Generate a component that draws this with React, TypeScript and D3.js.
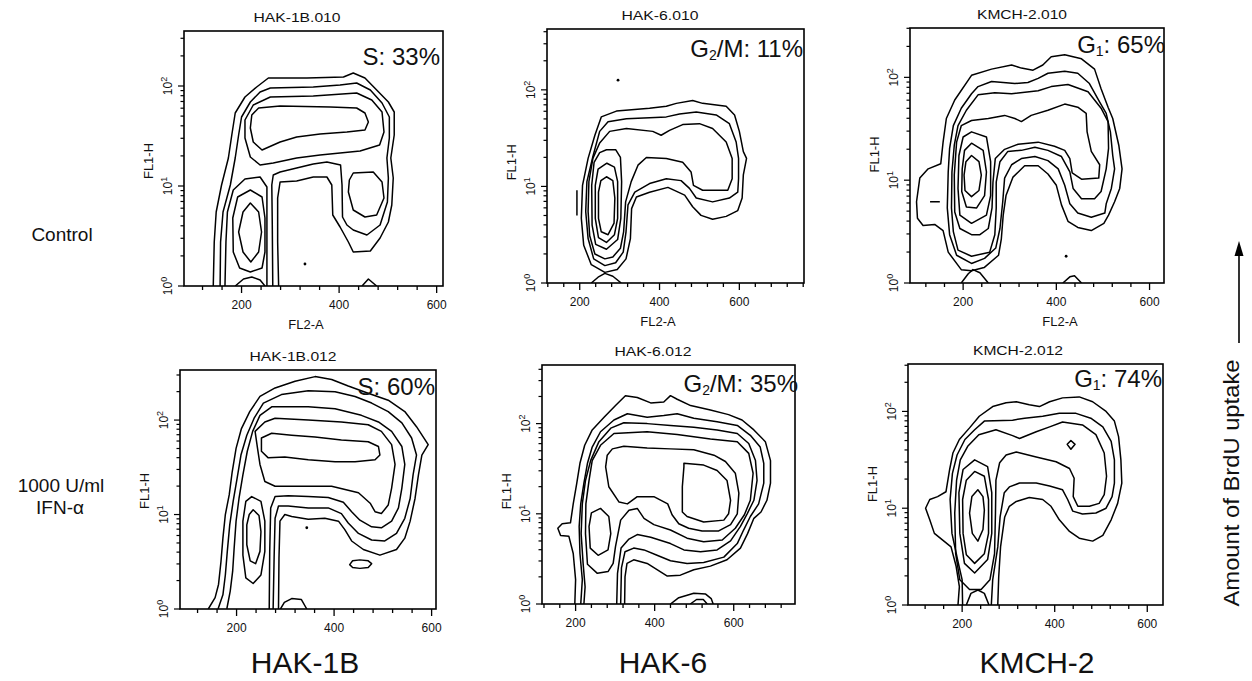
import React from "react";
import * as d3 from "d3";

// contour traces
// every point is [FL2-A channel, log10(FL1-H)]
type Pt = [number, number];

// HAK-1B control
const hak1bCtrlL1: Pt[] = [[142,0],[144,0.44],[148,0.74],[159,1.01],[173,1.28],[180,1.51],[187,1.73],[207,1.89],[231,1.99],[255,2.08],[334,2.08],[409,2.09],[429,2.13],[453,2.08],[477,1.96],[501,1.84],[513,1.74],[513,1.51],[506,1.28],[511,1.08],[508,0.81],[501,0.64],[484,0.48],[464,0.35],[429,0.34],[419,0.44],[402,0.59],[387,0.71],[385,1.01],[375,1.09],[347,1.09],[313,1.05],[279,1.04],[274,0.88],[274,0.44],[276,0]];
const hak1bCtrlL2: Pt[] = [[156,0],[157,0.44],[162,0.74],[177,1.01],[187,1.28],[194,1.51],[200,1.69],[218,1.84],[238,1.94],[259,1.98],[347,1.99],[402,2.01],[436,2.03],[464,1.96],[488,1.83],[503,1.69],[503,1.48],[498,1.28],[501,1.08],[499,0.84],[484,0.61],[457,0.51],[429,0.56],[416,0.61],[407,0.69],[406,1.01],[403,1.21],[375,1.24],[347,1.22],[313,1.18],[279,1.14],[265,1.11],[262,1.01],[263,0.61],[264,0]];
const hak1bCtrlG1Arch: Pt[] = [[166,0],[168,0.44],[171,0.74],[183,0.96],[207,1.07],[238,1.09],[252,0.99],[252,0.61],[252,0]];
const hak1bCtrlRing: Pt[] = [[207,1.66],[224,1.81],[259,1.89],[347,1.90],[436,1.93],[467,1.86],[488,1.74],[492,1.54],[483,1.41],[443,1.35],[402,1.33],[361,1.31],[313,1.28],[265,1.23],[238,1.21],[218,1.29],[207,1.48]];
const hak1bCtrlBand: Pt[] = [[221,1.71],[235,1.78],[279,1.80],[382,1.79],[436,1.78],[453,1.73],[460,1.64],[453,1.56],[416,1.54],[361,1.52],[313,1.49],[279,1.44],[242,1.36],[224,1.44],[218,1.58]];
const hak1bCtrlG2: Pt[] = [[429,1.13],[470,1.14],[488,1.04],[492,0.88],[477,0.71],[453,0.69],[429,0.76],[419,0.94],[421,1.06]];
const hak1bCtrlG1Outer: Pt[] = [[218,0.96],[242,0.89],[248,0.68],[248,0.34],[242,0.18],[218,0.14],[196,0.18],[183,0.34],[182,0.68],[192,0.89]];
const hak1bCtrlG1Inner: Pt[] = [[218,0.83],[235,0.74],[241,0.54],[235,0.34],[219,0.24],[203,0.34],[194,0.54],[203,0.74]];
const hak1bCtrlFoot: Pt[] = [[187,0],[204,0.07],[221,0.09],[238,0.06],[248,0]];
const hak1bCtrlFootR: Pt[] = [[447,0],[460,0.07],[477,0]];
const hak1bCtrlDots: Pt[] = [[330,0.22]];

// HAK-6 control
const hak6CtrlL1: Pt[] = [[263,0.11],[229,0.19],[210,0.39],[204,0.67],[207,1.01],[221,1.29],[238,1.53],[254,1.72],[292,1.78],[375,1.81],[417,1.83],[442,1.86],[483,1.89],[508,1.86],[567,1.83],[588,1.74],[600,1.57],[610,1.36],[618,1.29],[610,1.12],[607,0.88],[596,0.75],[567,0.69],[533,0.66],[504,0.70],[483,0.79],[463,0.91],[421,0.99],[375,0.94],[342,0.89],[330,0.77],[327,0.46],[316,0.25],[294,0.14]];
const hak6CtrlL2: Pt[] = [[263,0.18],[235,0.25],[221,0.46],[215,0.74],[218,1.05],[233,1.31],[250,1.57],[271,1.67],[317,1.70],[375,1.71],[417,1.72],[450,1.75],[492,1.77],[542,1.74],[575,1.65],[592,1.46],[598,1.29],[598,1.08],[596,0.94],[575,0.88],[533,0.84],[492,0.88],[475,0.98],[454,1.06],[417,1.08],[375,1.03],[338,0.94],[321,0.81],[316,0.53],[309,0.32],[290,0.21]];
const hak6CtrlL3: Pt[] = [[263,0.25],[238,0.30],[225,0.49],[221,0.74],[223,1.05],[233,1.29],[250,1.45],[275,1.57],[317,1.60],[383,1.57],[404,1.53],[425,1.58],[458,1.64],[500,1.65],[533,1.60],[567,1.46],[582,1.29],[582,1.08],[571,0.96],[508,0.96],[485,1.01],[479,1.15],[458,1.25],[417,1.29],[367,1.30],[346,1.22],[329,1.05],[315,0.84],[310,0.53],[302,0.36],[283,0.27]];
const hak6CtrlG1a: Pt[] = [[267,1.38],[290,1.38],[302,1.30],[305,1.05],[303,0.67],[295,0.45],[267,0.35],[240,0.40],[231,0.60],[230,1.01],[236,1.25],[250,1.35]];
const hak6CtrlG1b: Pt[] = [[268,1.24],[287,1.20],[295,1.05],[295,0.67],[287,0.50],[267,0.42],[247,0.47],[239,0.67],[239,1.01],[246,1.18]];
const hak6CtrlG1c: Pt[] = [[267,1.10],[283,1.06],[288,0.88],[286,0.62],[271,0.50],[254,0.53],[247,0.67],[247,0.94],[253,1.06]];
const hak6CtrlFoot: Pt[] = [[229,0],[246,0.06],[263,0.10],[283,0.07],[304,0]];
const hak6CtrlTick: Pt[] = [[193,0.96],[193,0.70]];
const hak6CtrlDots: Pt[] = [[296,2.10]];

// KMCH-2 control
const kmch2CtrlL1: Pt[] = [[196,0.13],[168,0.30],[157,0.51],[139,0.57],[114,0.56],[102,0.63],[100,0.79],[107,1.02],[125,1.11],[152,1.16],[157,1.37],[164,1.60],[182,1.78],[218,2.02],[261,2.08],[304,2.12],[325,2.09],[350,2.07],[371,2.12],[389,2.20],[418,2.22],[454,2.18],[482,2.08],[496,1.89],[511,1.71],[521,1.60],[534,1.34],[541,1.11],[536,0.92],[525,0.79],[512,0.66],[502,0.58],[475,0.51],[446,0.54],[425,0.60],[411,0.76],[400,0.95],[382,1.06],[361,1.14],[332,1.14],[307,1.03],[292,0.85],[286,0.66],[282,0.43],[276,0.27],[245,0.15],[218,0.12]];
const kmch2CtrlL2: Pt[] = [[218,0.19],[186,0.27],[171,0.47],[166,0.73],[168,1.08],[171,1.31],[179,1.53],[196,1.70],[218,1.84],[232,1.91],[261,1.96],[311,1.94],[339,1.95],[361,1.99],[382,2.04],[418,2.06],[446,2.04],[471,1.94],[493,1.76],[507,1.65],[516,1.47],[521,1.24],[525,1.11],[518,0.92],[507,0.77],[504,0.68],[475,0.64],[446,0.68],[429,0.77],[418,0.95],[404,1.11],[382,1.19],[354,1.23],[325,1.21],[304,1.15],[289,1.02],[285,0.79],[279,0.53],[270,0.34],[246,0.24]];
const kmch2CtrlL3: Pt[] = [[232,1.83],[268,1.85],[304,1.84],[361,1.87],[389,1.91],[425,1.93],[468,1.86],[496,1.70],[511,1.57],[512,1.31],[507,1.11],[496,0.89],[482,0.82],[454,0.82],[436,0.92],[429,1.08],[411,1.23],[382,1.29],[354,1.32],[325,1.29],[296,1.28],[279,1.18],[271,0.98],[271,0.73],[268,0.47],[257,0.30],[218,0.26],[189,0.32],[179,0.50],[175,0.73],[176,1.08],[181,1.34],[189,1.53],[207,1.68]];
const kmch2CtrlL4: Pt[] = [[218,0.47],[193,0.53],[182,0.69],[181,1.05],[186,1.37],[196,1.53],[218,1.58],[254,1.60],[289,1.63],[311,1.60],[325,1.57],[346,1.63],[382,1.68],[418,1.74],[446,1.71],[464,1.65],[466,1.47],[475,1.28],[493,1.15],[491,1.02],[454,1.01],[434,1.07],[429,1.21],[418,1.29],[396,1.33],[361,1.37],[318,1.35],[289,1.30],[269,1.21],[264,0.98],[262,0.73],[254,0.53],[236,0.47]];
const kmch2CtrlG1a: Pt[] = [[218,1.47],[250,1.42],[259,1.18],[259,0.85],[250,0.66],[218,0.58],[193,0.66],[189,0.92],[191,1.24],[200,1.42]];
const kmch2CtrlG1b: Pt[] = [[218,1.36],[243,1.29],[250,1.08],[246,0.85],[229,0.73],[207,0.74],[197,0.89],[198,1.11],[203,1.29]];
const kmch2CtrlG1c: Pt[] = [[218,1.24],[234,1.18],[239,1.05],[234,0.90],[218,0.84],[204,0.90],[202,1.05],[206,1.18]];
const kmch2CtrlFoot: Pt[] = [[196,0],[211,0.09],[221,0.13],[236,0.10],[254,0]];
const kmch2CtrlFootR: Pt[] = [[414,0],[429,0.06],[439,0.07],[454,0]];
const kmch2CtrlTick: Pt[] = [[129,0.79],[150,0.79]];
const kmch2CtrlDots: Pt[] = [[421,0.26]];

// HAK-1B + IFN-alpha
const hak1bIfnL1: Pt[] = [[142,0],[156,0.12],[163,0.26],[168,0.50],[172,0.75],[177,1.00],[185,1.21],[191,1.45],[199,1.70],[210,1.91],[227,2.09],[248,2.25],[279,2.34],[320,2.41],[361,2.46],[395,2.43],[429,2.36],[467,2.29],[511,2.21],[545,2.09],[569,1.93],[593,1.74],[580,1.63],[573,1.42],[566,1.17],[556,0.93],[545,0.75],[528,0.63],[494,0.57],[460,0.63],[436,0.72],[422,0.84],[409,0.93],[381,0.96],[347,0.95],[313,0.98],[299,1.00],[289,0.93],[287,0.54],[286,0]];
const hak1bIfnL2: Pt[] = [[162,0],[172,0.15],[177,0.36],[181,0.61],[186,0.89],[193,1.14],[201,1.38],[209,1.63],[221,1.84],[236,2.02],[255,2.18],[292,2.27],[347,2.31],[402,2.30],[443,2.25],[477,2.18],[511,2.09],[539,1.97],[559,1.81],[569,1.63],[562,1.42],[556,1.17],[545,0.96],[528,0.80],[504,0.72],[477,0.73],[450,0.80],[429,0.91],[415,1.01],[388,1.07],[347,1.07],[306,1.09],[286,1.09],[279,0.96],[277,0.54],[275,0]];
const hak1bIfnL3: Pt[] = [[180,0],[187,0.19],[192,0.40],[195,0.64],[199,0.93],[205,1.17],[213,1.42],[222,1.67],[233,1.88],[248,2.05],[272,2.14],[347,2.14],[402,2.12],[456,2.05],[491,1.98],[518,1.88],[539,1.72],[545,1.53],[539,1.28],[532,1.07],[518,0.93],[497,0.86],[477,0.87],[453,0.94],[436,1.03],[419,1.13],[388,1.18],[347,1.19],[306,1.20],[279,1.19],[270,1.07],[268,0.61],[267,0]];
const hak1bIfnL4: Pt[] = [[238,1.88],[258,1.98],[279,2.02],[347,2.00],[415,1.98],[470,1.95],[497,1.88],[518,1.74],[525,1.53],[518,1.28],[511,1.10],[497,1.01],[484,1.03],[474,1.12],[450,1.23],[395,1.30],[333,1.30],[279,1.30],[258,1.35],[248,1.53],[243,1.70]];
const hak1bIfnBand: Pt[] = [[251,1.81],[272,1.86],[313,1.84],[361,1.82],[415,1.79],[470,1.77],[491,1.72],[494,1.63],[484,1.58],[443,1.56],[402,1.56],[347,1.58],[299,1.61],[265,1.60],[251,1.67]];
const hak1bIfnG1a: Pt[] = [[231,1.19],[250,1.14],[258,0.93],[258,0.61],[250,0.36],[234,0.27],[219,0.33],[213,0.57],[213,0.93],[219,1.14]];
const hak1bIfnG1b: Pt[] = [[234,1.05],[246,0.99],[250,0.82],[248,0.61],[239,0.48],[228,0.51],[221,0.68],[221,0.89],[226,1.00]];
const hak1bIfnIsland: Pt[] = [[453,0.52],[470,0.51],[477,0.48],[470,0.44],[453,0.43],[438,0.44],[432,0.47],[438,0.51]];
const hak1bIfnFoot: Pt[] = [[290,0],[298,0.07],[313,0.11],[333,0.10],[344,0]];
const hak1bIfnDots: Pt[] = [[344,0.86]];

// HAK-6 + IFN-alpha
const hak6IfnL1: Pt[] = [[198,0],[200,0.27],[194,0.56],[183,0.75],[162,0.76],[155,0.84],[166,0.89],[187,0.90],[194,1.11],[203,1.34],[211,1.56],[223,1.76],[242,1.93],[272,2.07],[301,2.20],[326,2.31],[356,2.29],[390,2.23],[423,2.24],[440,2.31],[457,2.27],[491,2.20],[541,2.15],[587,2.10],[621,2.04],[651,1.93],[680,1.80],[693,1.59],[693,1.34],[684,1.15],[669,1.02],[651,0.95],[635,0.78],[617,0.62],[583,0.49],[541,0.42],[499,0.38],[465,0.32],[432,0.31],[406,0.38],[381,0.45],[347,0.49],[330,0.45],[325,0.30],[324,0]];
const hak6IfnL2: Pt[] = [[213,0],[217,0.27],[211,0.56],[209,0.86],[213,1.11],[221,1.34],[230,1.56],[242,1.74],[263,1.91],[297,2.04],[331,2.11],[381,2.07],[423,2.09],[457,2.11],[499,2.06],[558,2.02],[609,1.98],[642,1.87],[667,1.74],[676,1.56],[676,1.34],[663,1.11],[642,0.97],[625,0.82],[609,0.67],[575,0.52],[524,0.46],[482,0.45],[440,0.48],[406,0.54],[373,0.60],[347,0.62],[325,0.58],[316,0.40],[314,0]];
const hak6IfnL3: Pt[] = [[221,0],[224,0.19],[219,0.45],[214,0.78],[217,1.11],[225,1.37],[238,1.59],[259,1.80],[289,1.95],[322,2.01],[381,2.00],[440,1.98],[499,1.96],[558,1.93],[609,1.89],[638,1.78],[655,1.59],[659,1.37],[651,1.15],[634,1.00],[617,0.86],[592,0.70],[558,0.60],[516,0.58],[474,0.60],[440,0.67],[390,0.74],[356,0.77],[335,0.72],[315,0.62],[306,0.34],[304,0]];
const hak6IfnL4: Pt[] = [[255,0.34],[230,0.44],[225,0.78],[226,1.11],[234,1.37],[242,1.59],[263,1.76],[297,1.89],[381,1.91],[457,1.88],[541,1.83],[609,1.80],[638,1.67],[649,1.45],[642,1.15],[627,0.99],[604,0.84],[571,0.71],[524,0.69],[482,0.73],[440,0.82],[398,0.88],[373,0.95],[356,1.06],[335,1.04],[314,0.93],[301,0.64],[295,0.45],[282,0.36]];
const hak6IfnL5: Pt[] = [[293,1.72],[322,1.75],[381,1.73],[440,1.72],[499,1.71],[550,1.65],[579,1.58],[604,1.45],[613,1.23],[609,1.00],[592,0.88],[562,0.81],[520,0.81],[486,0.84],[461,0.89],[444,0.99],[433,1.11],[398,1.19],[356,1.19],[331,1.11],[310,1.13],[284,1.30],[276,1.52],[280,1.65]];
const hak6IfnG2: Pt[] = [[474,1.56],[524,1.54],[558,1.48],[583,1.37],[592,1.15],[587,1.00],[575,0.93],[524,0.91],[482,0.97],[470,1.02],[470,1.30],[474,1.52]];
const hak6IfnG1: Pt[] = [[263,1.06],[284,0.97],[289,0.78],[282,0.60],[257,0.54],[237,0.62],[234,0.86],[240,1.01]];
const hak6IfnFoot: Pt[] = [[440,0],[461,0.07],[499,0.12],[529,0.11],[543,0.06],[548,0]];
const hak6IfnFootIn: Pt[] = [[490,0],[506,0.05],[523,0.05],[533,0]];

// KMCH-2 + IFN-alpha
const kmch2IfnL1: Pt[] = [[191,0],[194,0.19],[187,0.40],[176,0.60],[158,0.67],[140,0.74],[130,0.88],[121,1.00],[130,1.09],[147,1.12],[165,1.17],[173,1.40],[180,1.57],[194,1.71],[216,1.83],[237,1.95],[266,2.05],[295,2.09],[317,2.10],[345,2.07],[367,2.05],[389,2.10],[417,2.14],[453,2.15],[482,2.10],[511,2.00],[529,1.90],[538,1.74],[543,1.50],[545,1.26],[536,1.05],[522,0.88],[504,0.72],[482,0.66],[453,0.69],[432,0.76],[410,0.88],[392,1.02],[374,1.09],[345,1.11],[317,1.07],[302,1.02],[292,0.91],[283,0.60],[279,0.29],[277,0]];
const kmch2IfnL2: Pt[] = [[201,0],[200,0.26],[190,0.47],[178,0.74],[174,1.09],[179,1.36],[189,1.55],[206,1.71],[227,1.81],[248,1.90],[309,1.91],[335,1.93],[374,1.95],[410,1.98],[446,1.98],[478,1.93],[504,1.84],[522,1.69],[529,1.50],[529,1.26],[524,1.12],[511,1.00],[489,0.95],[460,0.94],[439,0.97],[428,1.09],[417,1.19],[389,1.23],[360,1.26],[324,1.26],[302,1.22],[291,1.16],[282,0.91],[277,0.60],[266,0.26],[263,0]];
const kmch2IfnL3: Pt[] = [[216,0.16],[195,0.26],[186,0.53],[184,0.95],[188,1.29],[196,1.50],[212,1.64],[236,1.76],[273,1.81],[309,1.75],[324,1.72],[360,1.79],[389,1.84],[417,1.89],[460,1.86],[489,1.76],[507,1.57],[512,1.33],[507,1.14],[496,1.05],[475,1.02],[450,1.02],[440,1.12],[442,1.31],[432,1.41],[403,1.48],[360,1.53],[317,1.58],[295,1.55],[281,1.47],[273,1.29],[272,0.95],[270,0.53],[260,0.26],[241,0.16]];
const kmch2IfnG1a: Pt[] = [[227,1.50],[255,1.43],[264,1.16],[264,0.74],[255,0.47],[227,0.33],[205,0.43],[195,0.74],[193,1.16],[202,1.40]];
const kmch2IfnG1b: Pt[] = [[227,1.38],[248,1.33],[257,1.09],[257,0.74],[248,0.53],[227,0.43],[209,0.52],[202,0.74],[201,1.09],[209,1.29]];
const kmch2IfnG1c: Pt[] = [[234,1.19],[245,1.12],[248,0.98],[245,0.78],[234,0.66],[222,0.74],[216,0.95],[221,1.12]];
const kmch2IfnPeak: Pt[] = [[435,1.70],[444,1.66],[435,1.61],[427,1.66]];
const kmch2IfnFoot: Pt[] = [[209,0],[219,0.12],[234,0.155],[248,0.12],[258,0]];

const panelTitles = ["HAK-1B.010", "HAK-6.010", "KMCH-2.010", "HAK-1B.012", "HAK-6.012", "KMCH-2.012"];
const phaseNames = ["S", "G2/M", "G1", "S", "G2/M", "G1"];
const phasePercents = [33, 11, 65, 60, 35, 74];
const cellLines = ["HAK-1B", "HAK-6", "KMCH-2"];
const xTickLabels = [200, 400, 600];

const FONT = "Arial, 'Liberation Sans', Helvetica, sans-serif";

const panels = [
  { box: { l: 184, t: 31, r: 443, b: 286 }, xDomain: [82, 613], eTop: 2.55, titleX: 297, titleW: 87, phaseX: 440, phaseY: 65, fl2aX: 306,
    open: [hak1bCtrlL1, hak1bCtrlL2, hak1bCtrlG1Arch, hak1bCtrlFoot, hak1bCtrlFootR],
    closed: [hak1bCtrlRing, hak1bCtrlBand, hak1bCtrlG2, hak1bCtrlG1Outer, hak1bCtrlG1Inner], dots: hak1bCtrlDots },
  { box: { l: 547, t: 29, r: 804, b: 283 }, xDomain: [118, 762], eTop: 2.63, titleX: 660, titleW: 77, phaseX: 803, phaseY: 57, fl2aX: 658,
    open: [hak6CtrlFoot, hak6CtrlTick],
    closed: [hak6CtrlL1, hak6CtrlL2, hak6CtrlL3, hak6CtrlG1a, hak6CtrlG1b, hak6CtrlG1c], dots: hak6CtrlDots },
  { box: { l: 910, t: 28, r: 1164, b: 283 }, xDomain: [86, 631], eTop: 2.48, titleX: 1022, titleW: 90, phaseX: 1165, phaseY: 53, fl2aX: 1060,
    open: [kmch2CtrlFoot, kmch2CtrlFootR, kmch2CtrlTick],
    closed: [kmch2CtrlL1, kmch2CtrlL2, kmch2CtrlL3, kmch2CtrlL4, kmch2CtrlG1a, kmch2CtrlG1b, kmch2CtrlG1c], dots: kmch2CtrlDots },
  { box: { l: 180, t: 370, r: 436, b: 609 }, xDomain: [84, 609], eTop: 2.53, titleX: 293, titleW: 87, phaseX: 435, phaseY: 395, fl2aX: 0,
    open: [hak1bIfnL1, hak1bIfnL2, hak1bIfnL3, hak1bIfnFoot],
    closed: [hak1bIfnL4, hak1bIfnBand, hak1bIfnG1a, hak1bIfnG1b, hak1bIfnIsland], dots: hak1bIfnDots },
  { box: { l: 542, t: 365, r: 795, b: 604 }, xDomain: [115, 755], eTop: 2.65, titleX: 653, titleW: 77, phaseX: 798, phaseY: 392, fl2aX: 0,
    open: [hak6IfnL1, hak6IfnL2, hak6IfnL3, hak6IfnFoot, hak6IfnFootIn],
    closed: [hak6IfnL4, hak6IfnL5, hak6IfnG2, hak6IfnG1], dots: [] as Pt[] },
  { box: { l: 908, t: 364, r: 1163, b: 605 }, xDomain: [83, 634], eTop: 2.49, titleX: 1018, titleW: 90, phaseX: 1162, phaseY: 387, fl2aX: 0,
    open: [kmch2IfnL1, kmch2IfnL2, kmch2IfnFoot],
    closed: [kmch2IfnL3, kmch2IfnG1a, kmch2IfnG1b, kmch2IfnG1c, kmch2IfnPeak], dots: [] as Pt[] },
];

function PhaseLabel({ name, pct, x, y }: { name: string; pct: number; x: number; y: number }) {
  // "G2/M" and "G1" carry a subscript digit
  const hasSub = name.length > 1 && /\d/.test(name[1]);
  return (
    <text x={x} y={y} textAnchor="end" fontSize={24} fontFamily={FONT} fill="#111">
      {hasSub ? (
        <>
          {name[0]}
          <tspan fontSize={14} dy={3}>{name[1]}</tspan>
          <tspan dy={-3}>{name.slice(2)}: {pct}%</tspan>
        </>
      ) : (
        `${name}: ${pct}%`
      )}
    </text>
  );
}

function Panel({ p, i }: { p: (typeof panels)[number]; i: number }) {
  const { l, t, r, b } = p.box;
  const x = d3.scaleLinear().domain(p.xDomain).range([l, r]);
  const y = d3.scaleLog().domain([1, Math.pow(10, p.eTop)]).range([b, t]);
  const px = (d: Pt) => x(d[0]);
  const py = (d: Pt) => y(Math.pow(10, d[1]));
  const openLine = d3.line<Pt>().x(px).y(py).curve(d3.curveLinear);
  const closedLine = d3.line<Pt>().x(px).y(py).curve(d3.curveLinearClosed);

  const xTicks = d3.range(Math.ceil(p.xDomain[0] / 40) * 40, p.xDomain[1], 40);
  const yTicks = y.ticks();
  const clipId = `clip-${i}`;

  return (
    <g>
      <clipPath id={clipId}>
        <rect x={l} y={t} width={r - l} height={b - t} />
      </clipPath>
      <text x={p.titleX} y={t - 9} textAnchor="middle" fontSize={12} fontFamily={FONT}
        textLength={p.titleW} lengthAdjust="spacingAndGlyphs" fill="#111">{panelTitles[i]}</text>

      <g clipPath={`url(#${clipId})`} fill="none" stroke="#000" strokeWidth={1.5} strokeLinejoin="round">
        {p.open.map((c, k) => <path key={"o" + k} d={openLine(c) || ""} />)}
        {p.closed.map((c, k) => <path key={"c" + k} d={closedLine(c) || ""} />)}
      </g>
      {p.dots.map((d, k) => <circle key={k} cx={px(d)} cy={py(d)} r={1.4} fill="#000" />)}

      <rect x={l} y={t} width={r - l} height={b - t} fill="none" stroke="#000" strokeWidth={1.6} />

      {xTicks.map(v => (
        <line key={v} x1={x(v)} x2={x(v)} y1={b} y2={b + (v % 200 === 0 ? 7 : 4)} stroke="#000" strokeWidth={1.3} />
      ))}
      {xTickLabels.filter(v => v >= p.xDomain[0] && v <= p.xDomain[1]).map(v => (
        <text key={v} x={x(v)} y={b + 23} textAnchor="middle" fontSize={12} fontFamily={FONT} fill="#111">{v}</text>
      ))}

      {yTicks.map(v => {
        const major = Math.abs(Math.log10(v) - Math.round(Math.log10(v))) < 1e-9;
        return <line key={v} x1={l} x2={l - (major ? 6 : 3.5)} y1={y(v)} y2={y(v)} stroke="#000" strokeWidth={1.2} />;
      })}
      {[0, 1, 2].map(e => (
        <text key={e} transform={`translate(${l - 12},${y(Math.pow(10, e))}) rotate(-90)`} textAnchor="middle"
          fontSize={12} fontFamily={FONT} fill="#111">
          10<tspan dy={-5} fontSize={9}>{e}</tspan>
        </text>
      ))}
      <text transform={`translate(${l - 31},${y(Math.pow(10, 1.25))}) rotate(-90)`} textAnchor="middle"
        fontSize={13} fontFamily={FONT} fill="#111">FL1-H</text>
      {i < 3 && (
        <text x={p.fl2aX} y={b + 43} textAnchor="middle" fontSize={13} fontFamily={FONT} fill="#111">FL2-A</text>
      )}

      <PhaseLabel name={phaseNames[i]} pct={phasePercents[i]} x={p.phaseX} y={p.phaseY} />
    </g>
  );
}

export default function App() {
  const cellLineX = [305, 663, 1037];
  return (
    <svg width={1252} height={681} style={{ position: "absolute", left: 0, top: 0, background: "#fff" }}>
      <rect width={1252} height={681} fill="#fff" />
      {panels.map((p, i) => <Panel key={i} p={p} i={i} />)}

      <text x={62} y={241} textAnchor="middle" fontSize={19} fontFamily={FONT} fill="#111">Control</text>
      <text x={61} y={492} textAnchor="middle" fontSize={19} fontFamily={FONT} fill="#111">1000 U/ml</text>
      <text x={60} y={514} textAnchor="middle" fontSize={19} fontFamily={FONT} fill="#111">IFN-α</text>

      {cellLines.map((c, k) => (
        <text key={c} x={cellLineX[k]} y={673} textAnchor="middle" fontSize={30} fontFamily={FONT} fill="#111">{c}</text>
      ))}

      <text transform="translate(1239,483) rotate(-90)" textAnchor="middle" fontSize={22} fontFamily={FONT}
        textLength={247} lengthAdjust="spacingAndGlyphs" fill="#111">Amount of BrdU uptake</text>
      <line x1={1239} x2={1239} y1={343} y2={254} stroke="#000" strokeWidth={1.6} />
      <path d="M1239,241 L1234.5,256 L1243.5,256 Z" fill="#000" />
    </svg>
  );
}
